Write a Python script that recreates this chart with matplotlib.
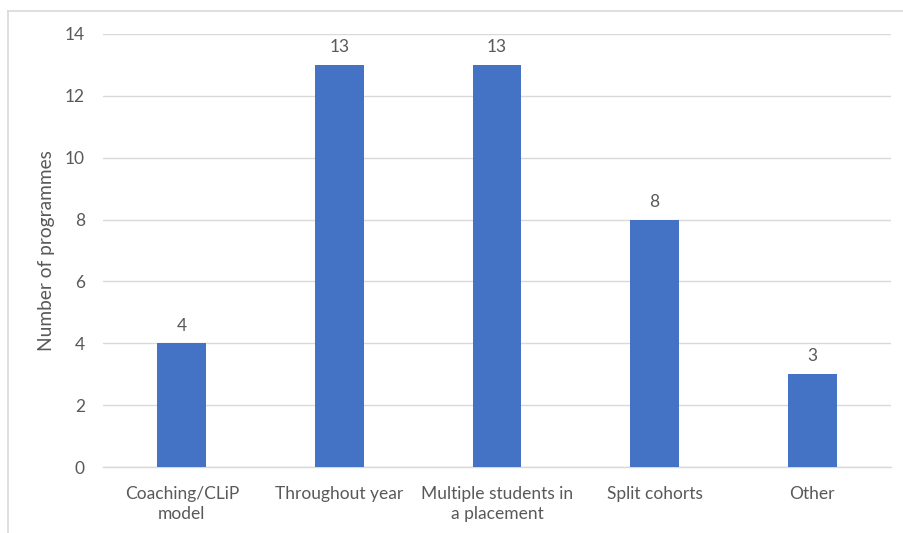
import matplotlib.pyplot as plt
from matplotlib.lines import Line2D

# data
categories = ['Coaching/CLiP\nmodel', 'Throughout year', 'Multiple students in\na placement',
              'Split cohorts', 'Other']
values = [4, 13, 13, 8, 3]
yticks = [0, 2, 4, 6, 8, 10, 12, 14]

plt.rcParams['font.family'] = ['Lato', 'DejaVu Sans']
text_color = '#595959'
grid_color = '#d9d9d9'

fig = plt.figure(figsize=(9.04, 5.33), dpi=100)
ax = fig.add_axes([103 / 904, 1 - 467 / 533, 788 / 904, 433 / 533])

x = range(len(categories))
bars = ax.bar(x, values, width=0.31, color='#4472c4', zorder=3)

for xi, v in zip(x, values):
    ax.annotate(str(v), (xi, v), xytext=(0, 7), textcoords='offset points',
                ha='center', va='bottom', fontsize=12.5, color=text_color)

ax.set_xlim(-0.5, len(categories) - 0.5)
ax.set_ylim(0, 14)
ax.set_yticks(yticks)
ax.set_xticks(list(x))
ax.set_xticklabels(categories, fontsize=12.5, color=text_color, linespacing=1.25)
ax.tick_params(axis='y', labelsize=12.5, labelcolor=text_color, length=0, pad=13)
ax.tick_params(axis='x', length=0, pad=14)
ax.grid(axis='y', color=grid_color, linewidth=1, zorder=0)
for s in ['top', 'right', 'left']:
    ax.spines[s].set_visible(False)
ax.spines['bottom'].set_color(grid_color)
ax.spines['bottom'].set_linewidth(1)

ax.set_ylabel('Number of programmes', fontsize=13.8, color=text_color, labelpad=7)

# chart frame (cropped at right and bottom)
fig.add_artist(Line2D([8 / 904, 8 / 904], [0, 1 - 11 / 533], transform=fig.transFigure,
                      color=grid_color, linewidth=1.2))
fig.add_artist(Line2D([8 / 904, 1], [1 - 11 / 533, 1 - 11 / 533], transform=fig.transFigure,
                      color=grid_color, linewidth=1.2))

fig.savefig('out.png', dpi=100)
